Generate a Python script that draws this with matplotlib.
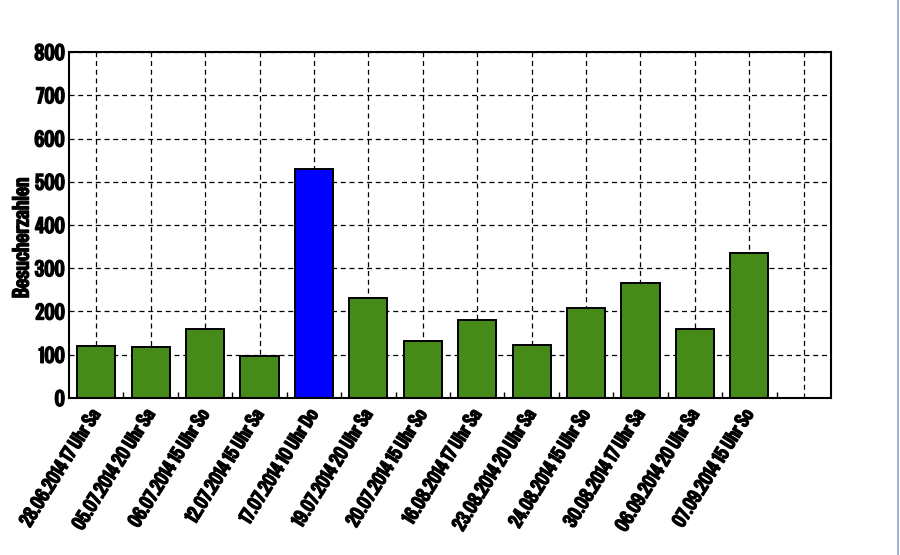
import matplotlib
matplotlib.use("Agg")
import matplotlib.pyplot as plt
import matplotlib.patheffects as pe
from matplotlib.lines import Line2D

dates = ['28.06.2014 17 Uhr Sa', '05.07.2014 20 Uhr Sa', '06.07.2014 15 Uhr So',
         '12.07.2014 15 Uhr Sa', '17.07.2014 10 Uhr Do', '19.07.2014 20 Uhr Sa',
         '20.07.2014 15 Uhr So', '16.08.2014 17 Uhr Sa', '23.08.2014 20 Uhr Sa',
         '24.08.2014 15 Uhr So', '30.08.2014 17 Uhr Sa', '06.09.2014 20 Uhr Sa',
         '07.09.2014 15 Uhr So']
visitors = [120, 118, 159, 97, 530, 231, 132, 180, 122, 208, 265, 159, 335]
highlight = 4

plt.rcParams['font.family'] = ['Special Gothic Condensed One', 'DejaVu Sans']
bold = [pe.withStroke(linewidth=1.0, foreground='black')]

fig = plt.figure(figsize=(9, 5.55), dpi=100)
ax = fig.add_axes([0.0767, 0.2829, 0.8466, 0.6234])

colors = ['#0000ff' if i == highlight else '#468a1a' for i in range(len(visitors))]
ax.bar(range(len(visitors)), visitors, width=0.7, color=colors,
       edgecolor='black', linewidth=1.4, zorder=3)

ax.set_xlim(-0.5, len(visitors) + 0.5)
ax.set_ylim(0, 800)
ax.set_yticks(range(0, 801, 100))
ax.set_xticks(range(len(visitors) + 1))
ax.set_xticklabels(dates + [''], rotation=58, ha='right', va='center',
                   rotation_mode='anchor', fontsize=14.5)
ax.set_xticks([i + 0.5 for i in range(len(visitors))], minor=True)
ax.tick_params(axis='x', which='major', length=0, pad=9)
ax.tick_params(axis='x', which='minor', direction='in', length=4, width=1, top=False)
ax.tick_params(axis='y', direction='in', length=0, labelsize=16, pad=3)
ax.grid(True, which='major', linestyle=(0, (4, 3)), color='black', linewidth=0.9, zorder=1)
ax.set_axisbelow(True)
for sp in ax.spines.values():
    sp.set_linewidth(1.5)
    sp.set_zorder(4)
ylab = ax.set_ylabel('Besucherzahlen', fontsize=16.5, va='center')
ax.yaxis.set_label_coords(-0.061, 0.462)
ylab.set_path_effects(bold)
for t in ax.get_xticklabels() + ax.get_yticklabels():
    t.set_path_effects(bold)

fig.add_artist(Line2D([0.998, 0.998], [0, 1], color='#8fa4c8', linewidth=1.2))

fig.savefig('out.png', dpi=100)
